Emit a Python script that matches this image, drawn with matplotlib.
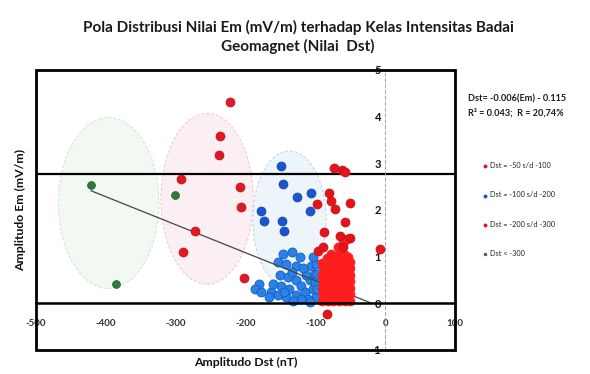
import matplotlib
matplotlib.use("Agg")
import matplotlib.pyplot as plt
from matplotlib.patches import Ellipse, Rectangle
import numpy as np

plt.rcParams['font.family'] = ['Lato', 'DejaVu Sans']

# ---------------- data ----------------
# Dst = -50 s/d -100 (sparse points)
red_dst = [-73, -62, -57, -80, -77, -72, -98, -51, -58, -87, -65, -51, -96, -89, -60, -7, -84]
red_em = [2.90, 2.86, 2.82, 2.37, 2.19, 2.02, 2.12, 2.15, 1.75, 1.52, 1.45, 1.41, 1.13, 1.20, 1.20, 1.16, -0.22]
# Dst = -50 s/d -100 (dense cluster)
red_dense_dst = [-90, -89, -90, -89, -90, -89, -90,
                 -82, -81, -82, -81, -82, -81, -82,
                 -74, -73, -74, -73, -74, -73, -74,
                 -66, -65, -66, -65, -66, -65, -66,
                 -58, -57, -58, -57, -58, -57, -58,
                 -50, -51, -50, -51, -50, -51, -50,
                 -70, -64, -58, -53, -68, -61, -55, -84, -77]
red_dense_em = [0.05, 0.19, 0.33, 0.47, 0.61, 0.75, 0.86,
                0.05, 0.19, 0.33, 0.47, 0.61, 0.75, 0.89,
                0.05, 0.19, 0.33, 0.47, 0.61, 0.75, 0.89,
                0.05, 0.19, 0.33, 0.47, 0.61, 0.75, 0.89,
                0.05, 0.19, 0.33, 0.47, 0.61, 0.75, 0.89,
                0.05, 0.19, 0.33, 0.47, 0.61, 0.75, 0.89,
                1.02, 1.08, 1.04, 1.00, 1.20, 1.30, 1.38, 0.98, 1.05]

# Dst = -100 s/d -200
blue_dst = [-149, -147, -126, -106, -108, -178, -174, -148, -145]
blue_em = [2.94, 2.56, 2.28, 2.37, 1.98, 1.98, 1.77, 1.77, 1.54]
blue_dense_dst = [-147, -134, -122, -154, -142, -127, -151, -139, -149, -137,
                  -127, -120, -127, -115, -108, -101, -106, -99, -103, -99,
                  -111, -120, -180, -187, -178, -163, -154, -166, -142, -161,
                  -113, -118, -104, -100, -133, -145, -132, -107, -97, -97]
blue_dense_em = [1.06, 1.09, 0.99, 0.88, 0.84, 0.81, 0.60, 0.56, 0.38, 0.31,
                 0.49, 0.38, 0.17, 0.24, 0.49, 0.63, 0.81, 0.84, 0.31, 0.14,
                 0.10, 0.10, 0.42, 0.31, 0.24, 0.24, 0.17, 0.14, 0.14, 0.42,
                 0.60, 0.75, 1.00, 0.45, 0.68, 0.25, 0.05, 0.02, 0.30, 0.62]

# Dst = -200 s/d -300
pink_dst = [-222, -236, -238, -292, -208, -206, -272, -289, -202]
pink_em = [4.31, 3.59, 3.17, 2.66, 2.49, 2.06, 1.55, 1.11, 0.55]

# Dst < -300
green_dst = [-421, -386, -301]
green_em = [2.53, 0.42, 2.33]

legend_labels = ["Dst = -50 s/d -100", "Dst = -100 s/d -200", "Dst = -200 s/d -300", "Dst < -300"]
x_ticks = [-500, -400, -300, -200, -100, 0, 100]
y_ticks = [-1, 0, 1, 2, 3, 4, 5]

# trend line coefficients: Em = a*Dst + b
trend_a, trend_b = -0.006, -0.115
trend_range = [-421, -19]
threshold_em = 2.77

# ---------------- figure ----------------
fig = plt.figure(figsize=(5.9, 3.74), dpi=100)
ax = fig.add_axes([36/590, 24/374, 419/590, 280/374])
ax.set_xlim(-500, 100)
ax.set_ylim(-1, 5)

# grouping ellipses (annotations)
ax.add_patch(Ellipse((-396, 2.15), 144, 3.66, facecolor='#f2f8f2', edgecolor='#cde3cd',
                     lw=0.7, ls=(0, (3, 2)), zorder=1))
ax.add_patch(Ellipse((-255, 2.24), 132, 3.66, facecolor='#fbeff3', edgecolor='#ebc6d2',
                     lw=0.7, ls=(0, (3, 2)), zorder=1))
ax.add_patch(Ellipse((-137, 1.80), 105, 2.93, facecolor='#edf4fa', edgecolor='#bfd2e4',
                     lw=0.7, ls=(0, (3, 2)), zorder=1))

ax.axhline(threshold_em, color='black', lw=1.6, zorder=2)

ms = 42
ax.scatter(green_dst, green_em, s=32, color='#2f7a3a', edgecolor='#235c2b', lw=0.5,
           zorder=4, label=legend_labels[3])
ax.scatter(pink_dst, pink_em, s=ms, color='#dd1a24', edgecolor='#c01018', lw=0.5,
           zorder=4, label=legend_labels[2])
ax.scatter(blue_dense_dst, blue_dense_em, s=ms, color='#2a82e4', edgecolor='#1659c4', lw=0.6,
           zorder=3)
ax.scatter(blue_dst, blue_em, s=ms, color='#1a55cc', edgecolor='#1446a8', lw=0.5,
           zorder=3, label=legend_labels[1])

tx = np.array(trend_range, dtype=float)
ax.plot(tx, trend_a * tx + trend_b, color='#3d4747', lw=0.9, zorder=3.5)

ax.scatter(red_dense_dst, red_dense_em, s=ms, color='#ff1e1e', edgecolor='#ff1e1e', lw=0.5,
           zorder=5)
ax.scatter(red_dst, red_em, s=ms, color='#e3141b', edgecolor='#c40d14', lw=0.5,
           zorder=5, label=legend_labels[0])

# axes styling
for s in ['top', 'right']:
    ax.spines[s].set_visible(False)
ax.spines['left'].set_position(('data', 0))
ax.spines['left'].set_linestyle((0, (4, 3)))
ax.spines['left'].set_color('#9a9a9a')
ax.spines['left'].set_linewidth(0.6)
ax.spines['bottom'].set_position(('data', 0))
ax.spines['bottom'].set_color('black')
ax.spines['bottom'].set_linewidth(1.8)
ax.spines['bottom'].set_zorder(6)

ax.set_xticks(x_ticks)
ax.set_xticklabels([str(v) for v in x_ticks])
ax.set_yticks(y_ticks)
ax.set_yticklabels([str(v) for v in y_ticks])
ax.tick_params(axis='x', length=0, pad=11, labelsize=7, labelcolor='#333333')
ax.tick_params(axis='y', length=0, pad=3, labelsize=8, labelcolor='#111111')
for lbl in ax.get_xticklabels() + ax.get_yticklabels():
    lbl.set_fontweight('bold')

ax.add_patch(Rectangle((0, 0), 1, 1, transform=ax.transAxes, fill=False, ec='black',
                       lw=2.0, clip_on=False, zorder=10))

ax.text(0.5, -0.043, "Amplitudo Dst (nT)", transform=ax.transAxes, ha='center', va='center',
        fontsize=8.8, fontweight='bold', color='#111111')
ax.text(-0.038, 0.5, "Amplitudo Em (mV/m)", transform=ax.transAxes, ha='center', va='center',
        rotation=90, fontsize=8.8, fontweight='bold', color='#111111')

fig.text(298/590, 1-37/374,
         "Pola Distribusi Nilai Em (mV/m) terhadap Kelas Intensitas Badai\nGeomagnet (Nilai  Dst)",
         ha='center', va='center', fontsize=11, fontweight='bold', color='#1a1a1a', linespacing=1.3)

fig.text(468/590, 1-99/374, "Dst= -0.006(Em) - 0.115", ha='left', va='center',
         fontsize=6.6, fontweight='bold', color='#1a1a1a')
fig.text(468/590, 1-113/374, "R² = 0.043;  R = 20,74%", ha='left', va='center',
         fontsize=6.6, fontweight='bold', color='#1a1a1a')

handles, labels = ax.get_legend_handles_labels()
order = [labels.index(l) for l in legend_labels]
leg = fig.legend([handles[i] for i in order], [labels[i] for i in order],
                 loc='upper left', bbox_to_anchor=(483/590, 1-162/374), frameon=False,
                 fontsize=5.3, markerscale=0.35, labelspacing=3.05, handlelength=0.6,
                 handletextpad=0.35, borderaxespad=0, borderpad=0)
for t in leg.get_texts():
    t.set_color('#222222')

fig.savefig("out.png", dpi=100)
